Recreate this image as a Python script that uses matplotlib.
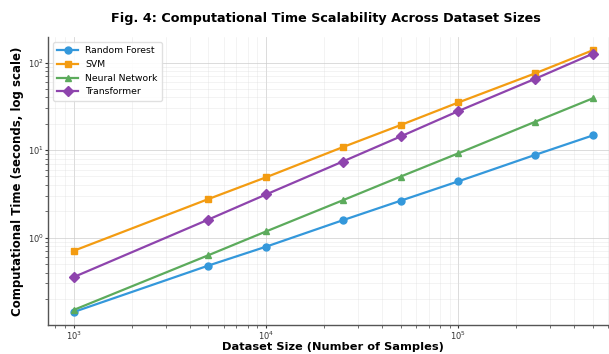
import numpy as np
import matplotlib
matplotlib.use("Agg")
import matplotlib.pyplot as plt

dataset_sizes = [1000, 5000, 10000, 25000, 50000, 100000, 250000, 500000]

random_forest = [0.142, 0.48, 0.79, 1.58, 2.64, 4.4, 8.8, 14.7]
svm = [0.71, 2.76, 4.9, 10.8, 19.3, 35, 75, 138]
neural_network = [0.15, 0.63, 1.18, 2.67, 4.98, 9.2, 21, 39]
transformer = [0.356, 1.61, 3.12, 7.4, 14.3, 27.9, 65, 126]

series = [
    ("Random Forest", random_forest, "#3498db", "o"),
    ("SVM", svm, "#f39c12", "s"),
    ("Neural Network", neural_network, "#5cab5c", "^"),
    ("Transformer", transformer, "#8e44ad", "D"),
]

fig = plt.figure(figsize=(6.09, 3.54), dpi=100)
ax = fig.add_axes([0.079, 0.082, 0.937, 0.813])

for name, vals, color, marker in series:
    ax.plot(dataset_sizes, vals, color=color, marker=marker, markersize=5,
            linewidth=1.6, label=name)

ax.set_xscale("log")
ax.set_yscale("log")

ax.grid(True, which="major", color="#cccccc", linewidth=0.6, alpha=0.8)
ax.grid(True, which="minor", color="#dddddd", linewidth=0.4, alpha=0.6)

for side in ["top", "right"]:
    ax.spines[side].set_visible(False)
for side in ["left", "bottom"]:
    ax.spines[side].set_color("#555555")
    ax.spines[side].set_linewidth(1.0)

ax.tick_params(axis="both", which="major", labelsize=6, colors="#333333", length=2, pad=1)
ax.tick_params(axis="both", which="minor", length=2, colors="#555555")

ax.set_xlabel("Dataset Size (Number of Samples)", fontsize=8.2, fontweight="bold")
ax.xaxis.set_label_coords(0.5, -0.06)
ax.set_ylabel("Computational Time (seconds, log scale)", fontsize=8.5, fontweight="bold", labelpad=3)
fig.suptitle("Fig. 4: Computational Time Scalability Across Dataset Sizes",
             fontsize=9.2, fontweight="bold", x=0.535, y=0.965)

ax.legend(loc="upper left", fontsize=6.7, frameon=True, framealpha=0.9,
          edgecolor="#dddddd", borderpad=0.5, handlelength=2.2,
          bbox_to_anchor=(0.0, 1.0))

fig.savefig("out.png", dpi=100)
